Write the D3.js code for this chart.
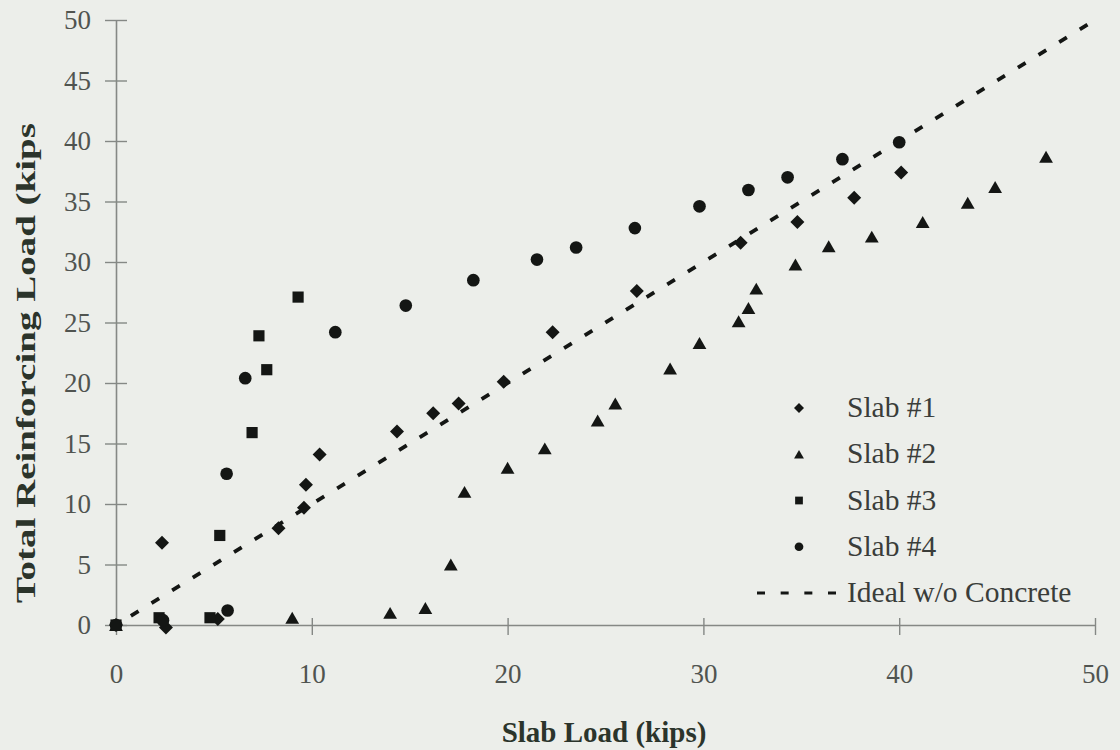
<!DOCTYPE html>
<html>
<head>
<meta charset="utf-8">
<script src="https://cdn.jsdelivr.net/npm/d3@7"></script>
<style>
  html, body { margin: 0; padding: 0; background: #eceeea; }
  svg { display: block; }
  text { font-family: "Liberation Serif", "Times New Roman", serif; }
</style>
</head>
<body>
<svg id="chart" width="1120" height="750"></svg>
<script>
// Measured reinforcing load versus applied slab load (kips)
const slab1X = [0, 2.35, 2.55, 5.2, 8.3, 9.6, 9.7, 10.4, 14.35, 16.2, 17.5, 19.8, 22.3, 26.6, 31.9, 34.8, 37.7, 40.1];
const slab1Y = [0, 6.8, -0.2, 0.5, 8.0, 9.7, 11.6, 14.1, 16.0, 17.5, 18.3, 20.1, 24.2, 27.6, 31.6, 33.3, 35.3, 37.4];

const slab2X = [0, 9.0, 14.0, 15.8, 17.1, 17.8, 20.0, 21.9, 24.6, 25.5, 28.3, 29.8, 31.8, 32.3, 32.7, 34.7, 36.4, 38.6, 41.2, 43.5, 44.9, 47.5];
const slab2Y = [0, 0.6, 1.0, 1.4, 5.0, 11.0, 13.0, 14.6, 16.9, 18.3, 21.2, 23.3, 25.1, 26.2, 27.8, 29.8, 31.3, 32.1, 33.3, 34.9, 36.2, 38.7];

const slab3X = [0, 2.2, 4.8, 5.3, 6.95, 7.3, 7.7, 9.3];
const slab3Y = [0, 0.6, 0.6, 7.4, 15.9, 23.9, 21.1, 27.1];

const slab4X = [0, 2.4, 5.7, 5.65, 6.6, 11.2, 14.8, 18.25, 21.5, 23.5, 26.5, 29.8, 32.3, 34.3, 37.1, 40.0];
const slab4Y = [0, 0.4, 1.2, 12.5, 20.4, 24.2, 26.4, 28.5, 30.2, 31.2, 32.8, 34.6, 35.95, 37.0, 38.5, 39.9];

// Ideal response with no concrete contribution: reinforcing load equals slab load
const idealX = [0, 50];
const idealY = [0, 50];

const xTicks = [0, 10, 20, 30, 40, 50];
const yTicks = [0, 5, 10, 15, 20, 25, 30, 35, 40, 45, 50];

const seriesNames = ["Slab #1", "Slab #2", "Slab #3", "Slab #4"];
const idealName = "Ideal w/o Concrete";
const xTitle = "Slab Load (kips)";
const yTitle = "Total Reinforcing Load (kips";

const svg = d3.select("#chart");
const x = d3.scaleLinear().domain([0, 50]).range([116, 1095]);
const y = d3.scaleLinear().domain([0, 50]).range([625, 20]);

const axisColor = "#858885";
const tickTextColor = "#505450";
const markColor = "#141614";

// Y axis with ticks crossing the line
const yAxis = svg.append("g")
  .attr("transform", `translate(${x(0)},0)`)
  .call(d3.axisLeft(y).tickValues(yTicks).tickSizeOuter(0).tickSizeInner(11).tickPadding(14));
yAxis.selectAll(".tick line").attr("x1", -11).attr("x2", 11);

// X axis with ticks crossing the line
const xAxis = svg.append("g")
  .attr("transform", `translate(0,${y(0)})`)
  .call(d3.axisBottom(x).tickValues(xTicks).tickSizeOuter(0).tickSizeInner(10).tickPadding(29));
xAxis.selectAll(".tick line").attr("y1", -7).attr("y2", 10);

[yAxis, xAxis].forEach(g => {
  g.select(".domain").attr("stroke", axisColor).attr("stroke-width", 1.6);
  g.selectAll(".tick line").attr("stroke", axisColor).attr("stroke-width", 1.4);
  g.selectAll(".tick text")
    .attr("fill", tickTextColor)
    .style("font-family", '"Liberation Serif", "Times New Roman", serif')
    .style("font-size", "27px");
});

// Axis titles
svg.append("text")
  .attr("x", 604).attr("y", 742)
  .attr("text-anchor", "middle")
  .attr("fill", "#2b342b")
  .style("font-size", "29px").style("font-weight", "bold")
  .text(xTitle);

svg.append("text")
  .attr("transform", "translate(35,363) rotate(-90)")
  .attr("text-anchor", "middle")
  .attr("fill", "#2b342b")
  .attr("textLength", 480)
  .attr("lengthAdjust", "spacingAndGlyphs")
  .style("font-size", "28px").style("font-weight", "bold")
  .text(yTitle);

// Ideal line (dashed)
const line = d3.line().x(d => x(d[0])).y(d => y(d[1]));
svg.append("path")
  .datum(d3.zip(idealX, idealY))
  .attr("d", line)
  .attr("fill", "none")
  .attr("stroke", markColor)
  .attr("stroke-width", 3.8)
  .attr("stroke-dasharray", "9,15.25")
  .attr("stroke-dashoffset", 6.75);

// Marker shapes per series
const diamond = {
  draw(ctx, size) {
    const r = Math.sqrt(size / 2);
    ctx.moveTo(0, -r); ctx.lineTo(r, 0); ctx.lineTo(0, r); ctx.lineTo(-r, 0); ctx.closePath();
  }
};
const triangle = {
  draw(ctx, size) {
    const w = Math.sqrt(size * 4 / Math.sqrt(3));
    const h = w * Math.sqrt(3) / 2;
    ctx.moveTo(0, -h / 2); ctx.lineTo(w / 2, h / 2); ctx.lineTo(-w / 2, h / 2); ctx.closePath();
  }
};
const series = [
  { name: seriesNames[0], xs: slab1X, ys: slab1Y, type: diamond, size: 98, lsize: 50 },
  { name: seriesNames[1], xs: slab2X, ys: slab2Y, type: triangle, size: 82, lsize: 42 },
  { name: seriesNames[2], xs: slab3X, ys: slab3Y, type: d3.symbolSquare, size: 125, lsize: 60 },
  { name: seriesNames[3], xs: slab4X, ys: slab4Y, type: d3.symbolCircle, size: 126, lsize: 60 }
];

series.forEach(s => {
  const sym = d3.symbol().type(s.type).size(s.size);
  svg.append("g")
    .selectAll("path")
    .data(d3.zip(s.xs, s.ys))
    .join("path")
    .attr("transform", d => `translate(${x(d[0])},${y(d[1])})`)
    .attr("d", sym)
    .attr("fill", markColor);
});

// Legend
const legend = svg.append("g");
const legendBase = 417, legendStep = 46.25, legendTextX = 847, legendMarkX = 799;
series.forEach((s, i) => {
  const by = legendBase + i * legendStep;
  legend.append("path")
    .attr("transform", `translate(${legendMarkX},${by - 9})`)
    .attr("d", d3.symbol().type(s.type).size(s.lsize))
    .attr("fill", markColor);
  legend.append("text")
    .attr("x", legendTextX).attr("y", by)
    .attr("fill", "#3a3d3a")
    .style("font-size", "29.5px")
    .text(s.name);
});
const iy = legendBase + 4 * legendStep;
legend.append("line")
  .attr("x1", 757).attr("x2", 836)
  .attr("y1", iy - 9).attr("y2", iy - 9)
  .attr("stroke", markColor)
  .attr("stroke-width", 3)
  .attr("stroke-dasharray", "8,15.67");
legend.append("text")
  .attr("x", legendTextX).attr("y", iy)
  .attr("fill", "#3a3d3a")
  .style("font-size", "29.5px")
  .text(idealName);
</script>
</body>
</html>
